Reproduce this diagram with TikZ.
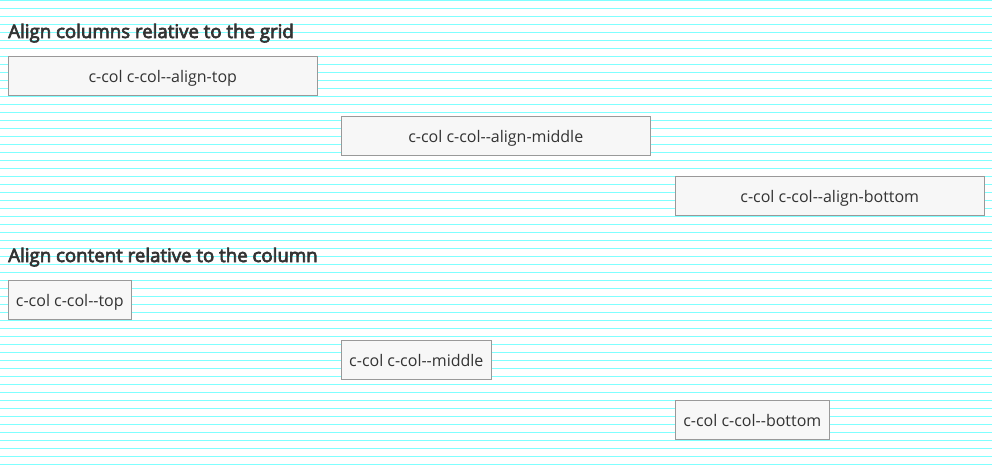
\documentclass[tikz,border=0pt]{standalone}
\usepackage{fontspec}
\setmainfont{Open Sans}
\newfontfamily\headfont{Open Sans}[FakeBold=3.6]
\newcommand\ddash{-\kern0pt-}
\definecolor{gridcyan}{HTML}{80FFFF}
\definecolor{boxfill}{HTML}{F7F7F7}
\definecolor{boxline}{HTML}{999999}
\definecolor{txt}{HTML}{333333}
\begin{document}
\begin{tikzpicture}[x=0.75pt,y=-0.75pt,
  heading/.style={anchor=base west, inner sep=0pt, text=txt, font=\headfont\fontsize{14pt}{16pt}\selectfont},
  colbox/.style={draw=boxline, line width=0.75pt, fill=boxfill, text=txt, anchor=north west,
    outer sep=0pt, minimum height=29.6pt, inner xsep=4pt, inner ysep=0pt,
    text height=12pt, text depth=2.4pt, font=\fontsize{12pt}{14pt}\selectfont},
  wide/.style={minimum width=231.4pt}]
\useasboundingbox (0,0) rectangle (992,472);
\fill[white] (0,0) rectangle (992,472);
\foreach \k in {0,...,58} \fill[gridcyan] (0,8*\k) rectangle (992,8*\k+1);
\node[heading] (h1) at (8,38) {Align columns relative to the grid};
\node[colbox, wide] (b1) at (8.5,56.5) {c-col c-col\ddash align-top};
\node[colbox, wide] (b2) at (341.5,116.5) {c-col c-col\ddash align-middle};
\node[colbox, wide] (b3) at (675.5,176.5) {c-col c-col\ddash align-bottom};
\node[heading] (h2) at (8,262) {Align content relative to the column};
\node[colbox, minimum width=92pt] (b4) at (8.5,280.5) {c-col c-col\ddash top};
\node[colbox, minimum width=112.25pt] (b5) at (341.5,340.5) {c-col c-col\ddash middle};
\node[colbox, minimum width=115.25pt] (b6) at (675.5,400.5) {c-col c-col\ddash bottom};
\end{tikzpicture}
\end{document}
